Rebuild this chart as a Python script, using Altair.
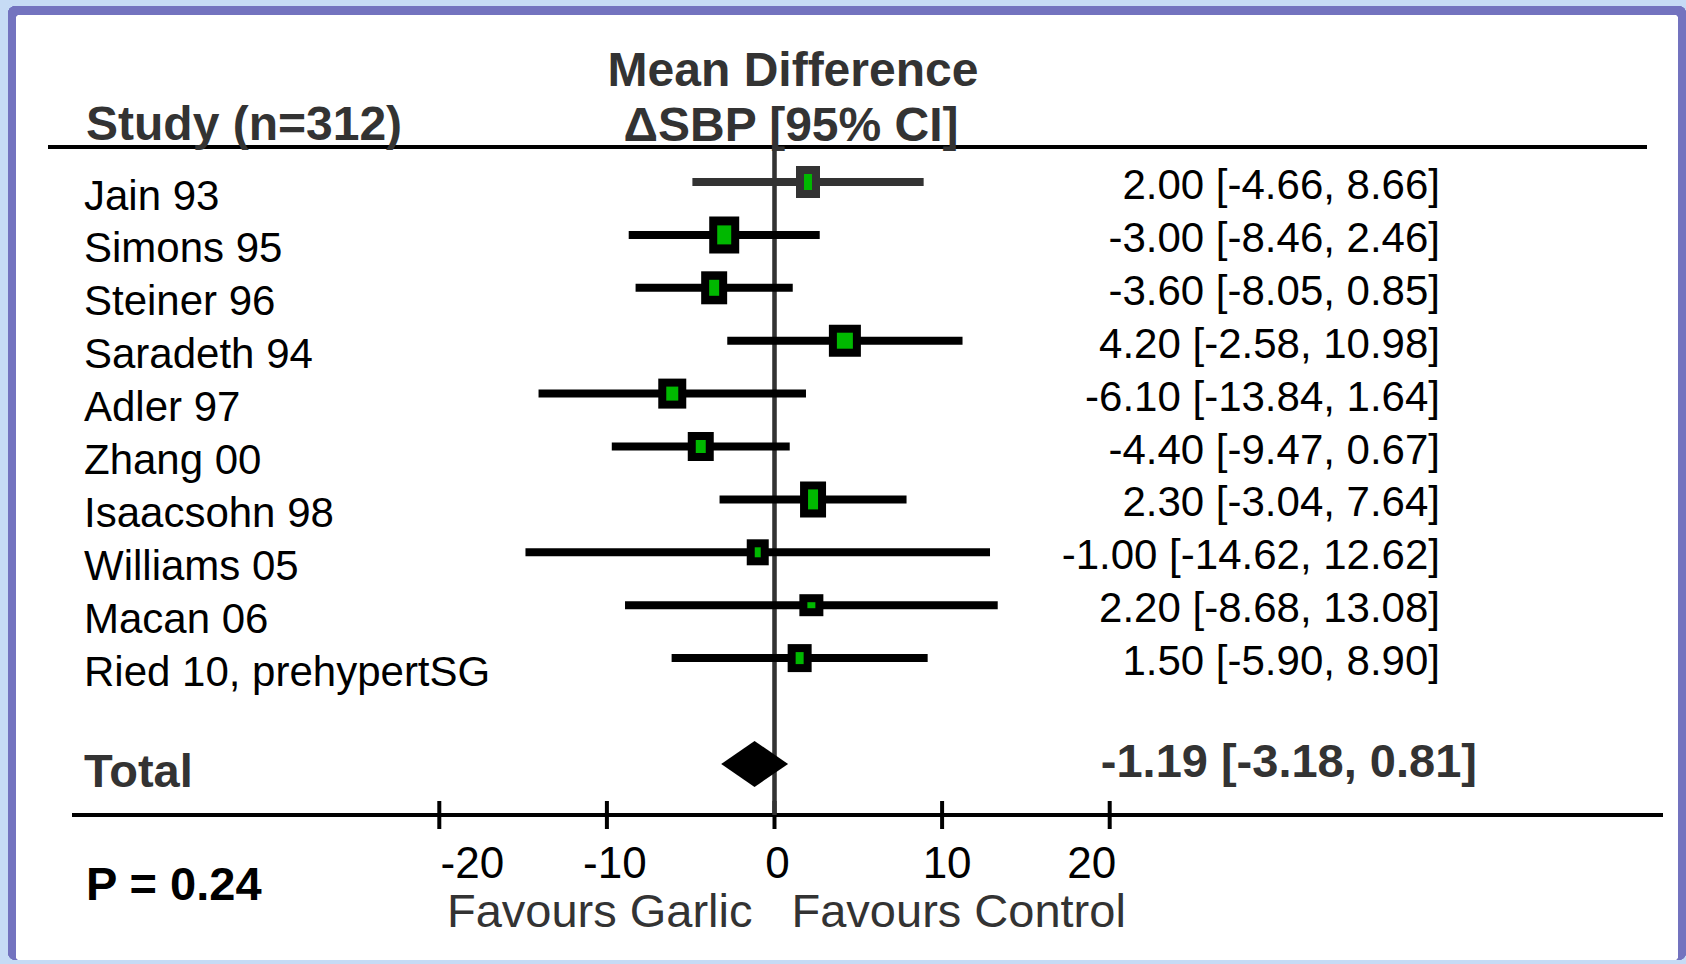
import altair as alt
import pandas as pd

# ---------------- data ----------------
studies = ["Jain 93", "Simons 95", "Steiner 96", "Saradeth 94", "Adler 97",
           "Zhang 00", "Isaacsohn 98", "Williams 05", "Macan 06", "Ried 10, prehypertSG"]
md = [2.00, -3.00, -3.60, 4.20, -6.10, -4.40, 2.30, -1.00, 2.20, 1.50]
ci_lo = [-4.66, -8.46, -8.05, -2.58, -13.84, -9.47, -3.04, -14.62, -8.68, -5.90]
ci_hi = [8.66, 2.46, 0.85, 10.98, 1.64, 0.67, 7.64, 12.62, 13.08, 8.90]
total_md = -1.19
total_lo = -3.18
total_hi = 0.81
p_text = "P = 0.24"
ticks = [-20, -10, 0, 10, 20]
tick_labels = ["-20", "-10", "0", "10", "20"]

# ---------------- styles ----------------
box_outer = [(24, 32), (30, 37), (26, 33), (32, 32), (28, 30), (26, 29), (26, 36), (22, 26), (24, 22), (24, 28)]
box_inner = [(8, 16), (14, 19), (10, 16), (16, 16), (12, 14), (10, 13), (10, 20), (6, 10), (8, 6), (8, 12)]
line_colors = ["#333333"] + ["#000000"] * 9
tick_label_dx = [33, 8, 3, 5, -18]
FONT = "Liberation Sans"
W, H = 1686, 964
X0_PX, PX_PER_UNIT = 774.5, 16.76
ROW0_PX, ROW_PX = 182.0, 52.9
TOTAL_ROW = 11
DIAMOND_HALF = 23 / ROW_PX

x_scale = alt.Scale(domain=[-X0_PX / PX_PER_UNIT, (W - X0_PX) / PX_PER_UNIT], nice=False, zero=False)
y_scale = alt.Scale(domain=[-ROW0_PX / ROW_PX, (H - ROW0_PX) / ROW_PX], nice=False, zero=False, reverse=True)


def rect_path(wh):
    w, h = wh
    m = max(w, h)
    a, b = w / m, h / m
    return f"M{-a},{-b}L{a},{-b}L{a},{b}L{-a},{b}Z", m * m


rows = []
for i, s in enumerate(studies):
    op, osz = rect_path(box_outer[i])
    ip, isz = rect_path(box_inner[i])
    rows.append(dict(row=i, study=s, md=md[i], lo=ci_lo[i], hi=ci_hi[i],
                     label=f"{md[i]:.2f} [{ci_lo[i]:.2f}, {ci_hi[i]:.2f}]",
                     color=line_colors[i], opath=op, osize=osz, ipath=ip, isize=isz))
df = pd.DataFrame(rows)

X = lambda f: alt.X(f, scale=x_scale, axis=None)
Y = lambda f: alt.Y(f, scale=y_scale, axis=None)

base = alt.Chart(df)

frame_purple = alt.Chart(df).mark_rect(color="#7373BF", cornerRadius=8).encode(
    x=alt.value(8), x2=alt.value(W), y=alt.value(6), y2=alt.value(960))
frame_white = alt.Chart(df).mark_rect(color="white", cornerRadius=4).encode(
    x=alt.value(16), x2=alt.value(1678), y=alt.value(15), y2=alt.value(960))

header_line = alt.Chart(df).mark_rule(color="black", strokeWidth=4).encode(
    x=alt.value(48), x2=alt.value(1647), y=alt.value(147))
axis_line = alt.Chart(df).mark_rule(color="black", strokeWidth=4).encode(
    x=alt.value(72), x2=alt.value(1663), y=alt.value(815))

tick_df = pd.DataFrame({"v": ticks, "lab": tick_labels})
tick_marks = alt.Chart(tick_df).mark_rule(color="black", strokeWidth=4).encode(
    x=X("v:Q"), y=alt.value(801), y2=alt.value(829))

zero_line = alt.Chart(tick_df).mark_rule(color="#333333", strokeWidth=3.5).encode(
    x=alt.X(datum=0, scale=x_scale, axis=None), y=alt.value(147), y2=alt.value(815))

ci_rules = base.mark_rule(strokeWidth=8, strokeCap="square").encode(
    x=X("lo:Q"), x2="hi:Q", y=Y("row:Q"), color=alt.Color("color:N", scale=None))

outer_boxes = base.mark_point(filled=True, opacity=1, strokeWidth=0).encode(
    x=X("md:Q"), y=Y("row:Q"),
    shape=alt.Shape("opath:N", scale=None),
    size=alt.Size("osize:Q", scale=None),
    color=alt.Color("color:N", scale=None))
inner_boxes = base.mark_point(filled=True, opacity=1, strokeWidth=0, color="#00B800").encode(
    x=X("md:Q"), y=Y("row:Q"),
    shape=alt.Shape("ipath:N", scale=None),
    size=alt.Size("isize:Q", scale=None))

dia_df = pd.DataFrame({
    "x": [total_lo, total_md, total_hi],
    "y1": [TOTAL_ROW, TOTAL_ROW - DIAMOND_HALF, TOTAL_ROW],
    "y2": [TOTAL_ROW, TOTAL_ROW + DIAMOND_HALF, TOTAL_ROW],
})
diamond = alt.Chart(dia_df).mark_area(color="black", orient="vertical", opacity=1).encode(
    x=X("x:Q"), y=Y("y1:Q"), y2="y2:Q")

study_text = base.mark_text(align="left", baseline="alphabetic", dy=27.5, fontSize=42,
                            font=FONT, color="black").encode(
    x=alt.value(84), y=Y("row:Q"), text="study:N")
ci_text = base.mark_text(align="right", baseline="alphabetic", dy=17, fontSize=42,
                         font=FONT, color="black").encode(
    x=alt.value(1440), y=Y("row:Q"), text="label:N")

tot_df = pd.DataFrame({"row": [TOTAL_ROW],
                       "name": ["Total"],
                       "lab": [f"{total_md:.2f} [{total_lo:.2f}, {total_hi:.2f}]"]})
total_name = alt.Chart(tot_df).mark_text(align="left", baseline="alphabetic", dy=23, fontSize=47,
                                         fontWeight="bold", font=FONT, color="#333333").encode(
    x=alt.value(84), y=Y("row:Q"), text="name:N")
total_lab = alt.Chart(tot_df).mark_text(align="right", baseline="alphabetic", dy=13, fontSize=47,
                                        fontWeight="bold", font=FONT, color="#333333").encode(
    x=alt.value(1477), y=Y("row:Q"), text="lab:N")


def fixed_text(txt, x, y, size, bold=True, align="left", color="#333333"):
    return alt.Chart(pd.DataFrame({"t": [txt]})).mark_text(
        align=align, baseline="alphabetic", fontSize=size,
        fontWeight="bold" if bold else "normal", font=FONT, color=color).encode(
        x=alt.value(x), y=alt.value(y), text="t:N")


hdr_study = fixed_text("Study (n=312)", 86, 140, 48)
hdr_md = fixed_text("Mean Difference", 793, 86, 48, align="center")
hdr_ci = fixed_text("ΔSBP [95% CI]", 791, 141, 48, align="center")
p_label = fixed_text(p_text, 86, 900, 47, color="black")

tick_text_layers = []
for v, lab, dx in zip(ticks, tick_labels, tick_label_dx):
    tick_text_layers.append(
        alt.Chart(pd.DataFrame({"v": [v], "lab": [lab]})).mark_text(
            align="center", baseline="alphabetic", fontSize=44, font=FONT, color="black", dx=dx).encode(
            x=X("v:Q"), y=alt.value(878), text="lab:N"))

fav_df = pd.DataFrame({"v": [0], "g": ["Favours Garlic"], "c": ["Favours Control"]})
fav_garlic = alt.Chart(fav_df).mark_text(align="right", baseline="alphabetic", fontSize=47, font=FONT,
                                         color="#333333", dx=-22).encode(
    x=X("v:Q"), y=alt.value(927), text="g:N")
fav_control = alt.Chart(fav_df).mark_text(align="left", baseline="alphabetic", fontSize=47, font=FONT,
                                          color="#333333", dx=17).encode(
    x=X("v:Q"), y=alt.value(927), text="c:N")

chart = alt.layer(
    frame_purple, frame_white, header_line, axis_line, tick_marks, zero_line,
    ci_rules, outer_boxes, inner_boxes, diamond,
    study_text, ci_text, total_name, total_lab,
    hdr_study, hdr_md, hdr_ci, p_label, *tick_text_layers, fav_garlic, fav_control,
).properties(
    width=W, height=H, background="#C6DBF5",
    autosize=alt.AutoSizeParams(type="none"), padding=0,
).configure_view(strokeWidth=0)

chart.save("out.html", embed_options={"renderer": "svg", "actions": False})
